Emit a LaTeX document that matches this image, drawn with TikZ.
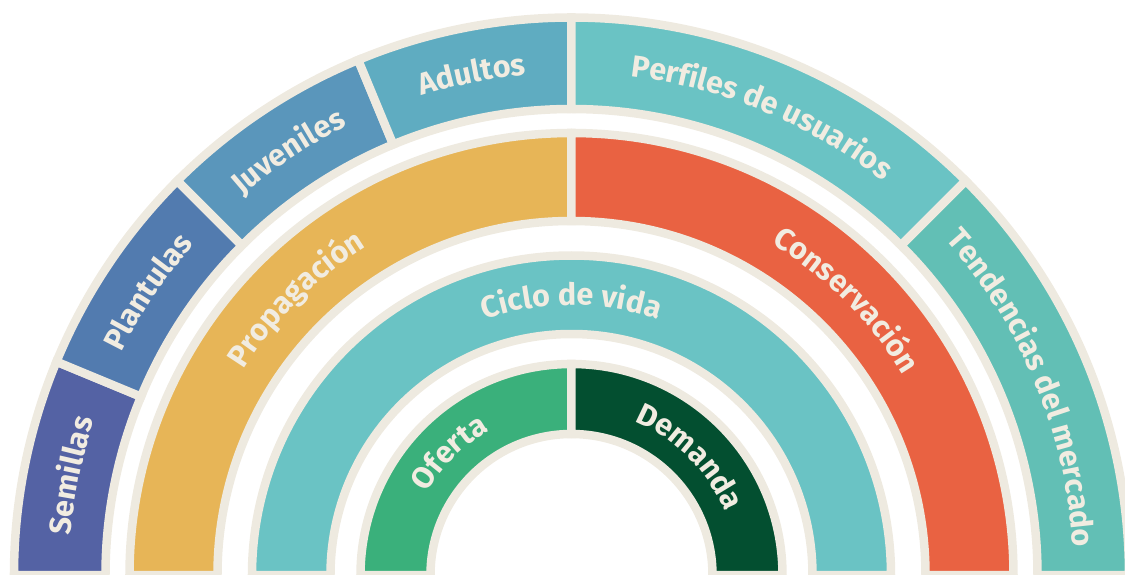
\documentclass[tikz,border=0pt]{standalone}
\usepackage{fontspec}
\setmainfont{Fira Sans}
\usetikzlibrary{decorations.text}

\definecolor{rim}{HTML}{EEEAE0}
\definecolor{rimtext}{HTML}{F1ECE1}
\definecolor{semillas}{HTML}{5462A4}
\definecolor{plantulas}{HTML}{527BAF}
\definecolor{juveniles}{HTML}{5A96BB}
\definecolor{adultos}{HTML}{5FACC1}
\definecolor{perfiles}{HTML}{6AC3C4}
\definecolor{tendencias}{HTML}{62BFB5}
\definecolor{propagacion}{HTML}{E7B557}
\definecolor{conservacion}{HTML}{E96242}
\definecolor{ciclo}{HTML}{6AC3C4}
\definecolor{oferta}{HTML}{3AB07B}
\definecolor{demanda}{HTML}{034F30}

\newcommand\ringtext{\fontsize{30.5}{31}\selectfont\bfseries}
% label on an arc, read clockwise: radius, start angle, end angle, text
\newcommand\ringlabel[4]{\path[decorate, decoration={text along path, text color=rimtext, text align=center, text={|\ringtext|#4}}] (#2:#1) arc[start angle=#2, end angle=#3, radius=#1];}

\tikzset{seg/.style={draw=rim, line width=8.5pt, line join=miter}}

\begin{document}
\begin{tikzpicture}[x=1pt, y=1pt]
    \useasboundingbox (-571.5,1) rectangle (553.5,575);
    \clip (-571.5,1) rectangle (553.5,575);
    % rings: lower angle / upper angle / inner radius / outer radius / colour
    \foreach \lo/\hi/\rin/\rout/\col in {
        157.5/180/466/557.5/semillas, 135/157.5/466/557.5/plantulas,
        112.5/135/466/557.5/juveniles, 90/112.5/466/557.5/adultos,
        45/90/466/557.5/perfiles, 0/45/466/557.5/tendencias,
        90/180/354/442/propagacion, 0/90/354/442/conservacion,
        0/180/241/319.5/ciclo,
        90/180/141/211/oferta, 0/90/141/211/demanda}
        \filldraw[seg, fill=\col] (\lo:\rout) arc[start angle=\lo, end angle=\hi, radius=\rout]
            -- (\hi:\rin) arc[start angle=\hi, end angle=\lo, radius=\rin] -- cycle;
    % outer ring
    \ringlabel{502}{180}{157.5}{Semillas}
    \ringlabel{502}{157.5}{135}{Plantulas}
    \ringlabel{502}{135}{112.5}{Juveniles}
    \ringlabel{502}{112.5}{90}{Adultos}
    \ringlabel{502}{90}{45}{Perfiles de usuarios}
    \ringlabel{502}{45}{0}{Tendencias del mercado}
    % middle rings
    \ringlabel{387}{180}{90}{Propagación}
    \ringlabel{387}{90}{0}{Conservación}
    \ringlabel{270}{180}{0}{Ciclo de vida}
    \ringlabel{166}{180}{90}{Oferta}
    \ringlabel{166}{90}{0}{Demanda}
\end{tikzpicture}
\end{document}
